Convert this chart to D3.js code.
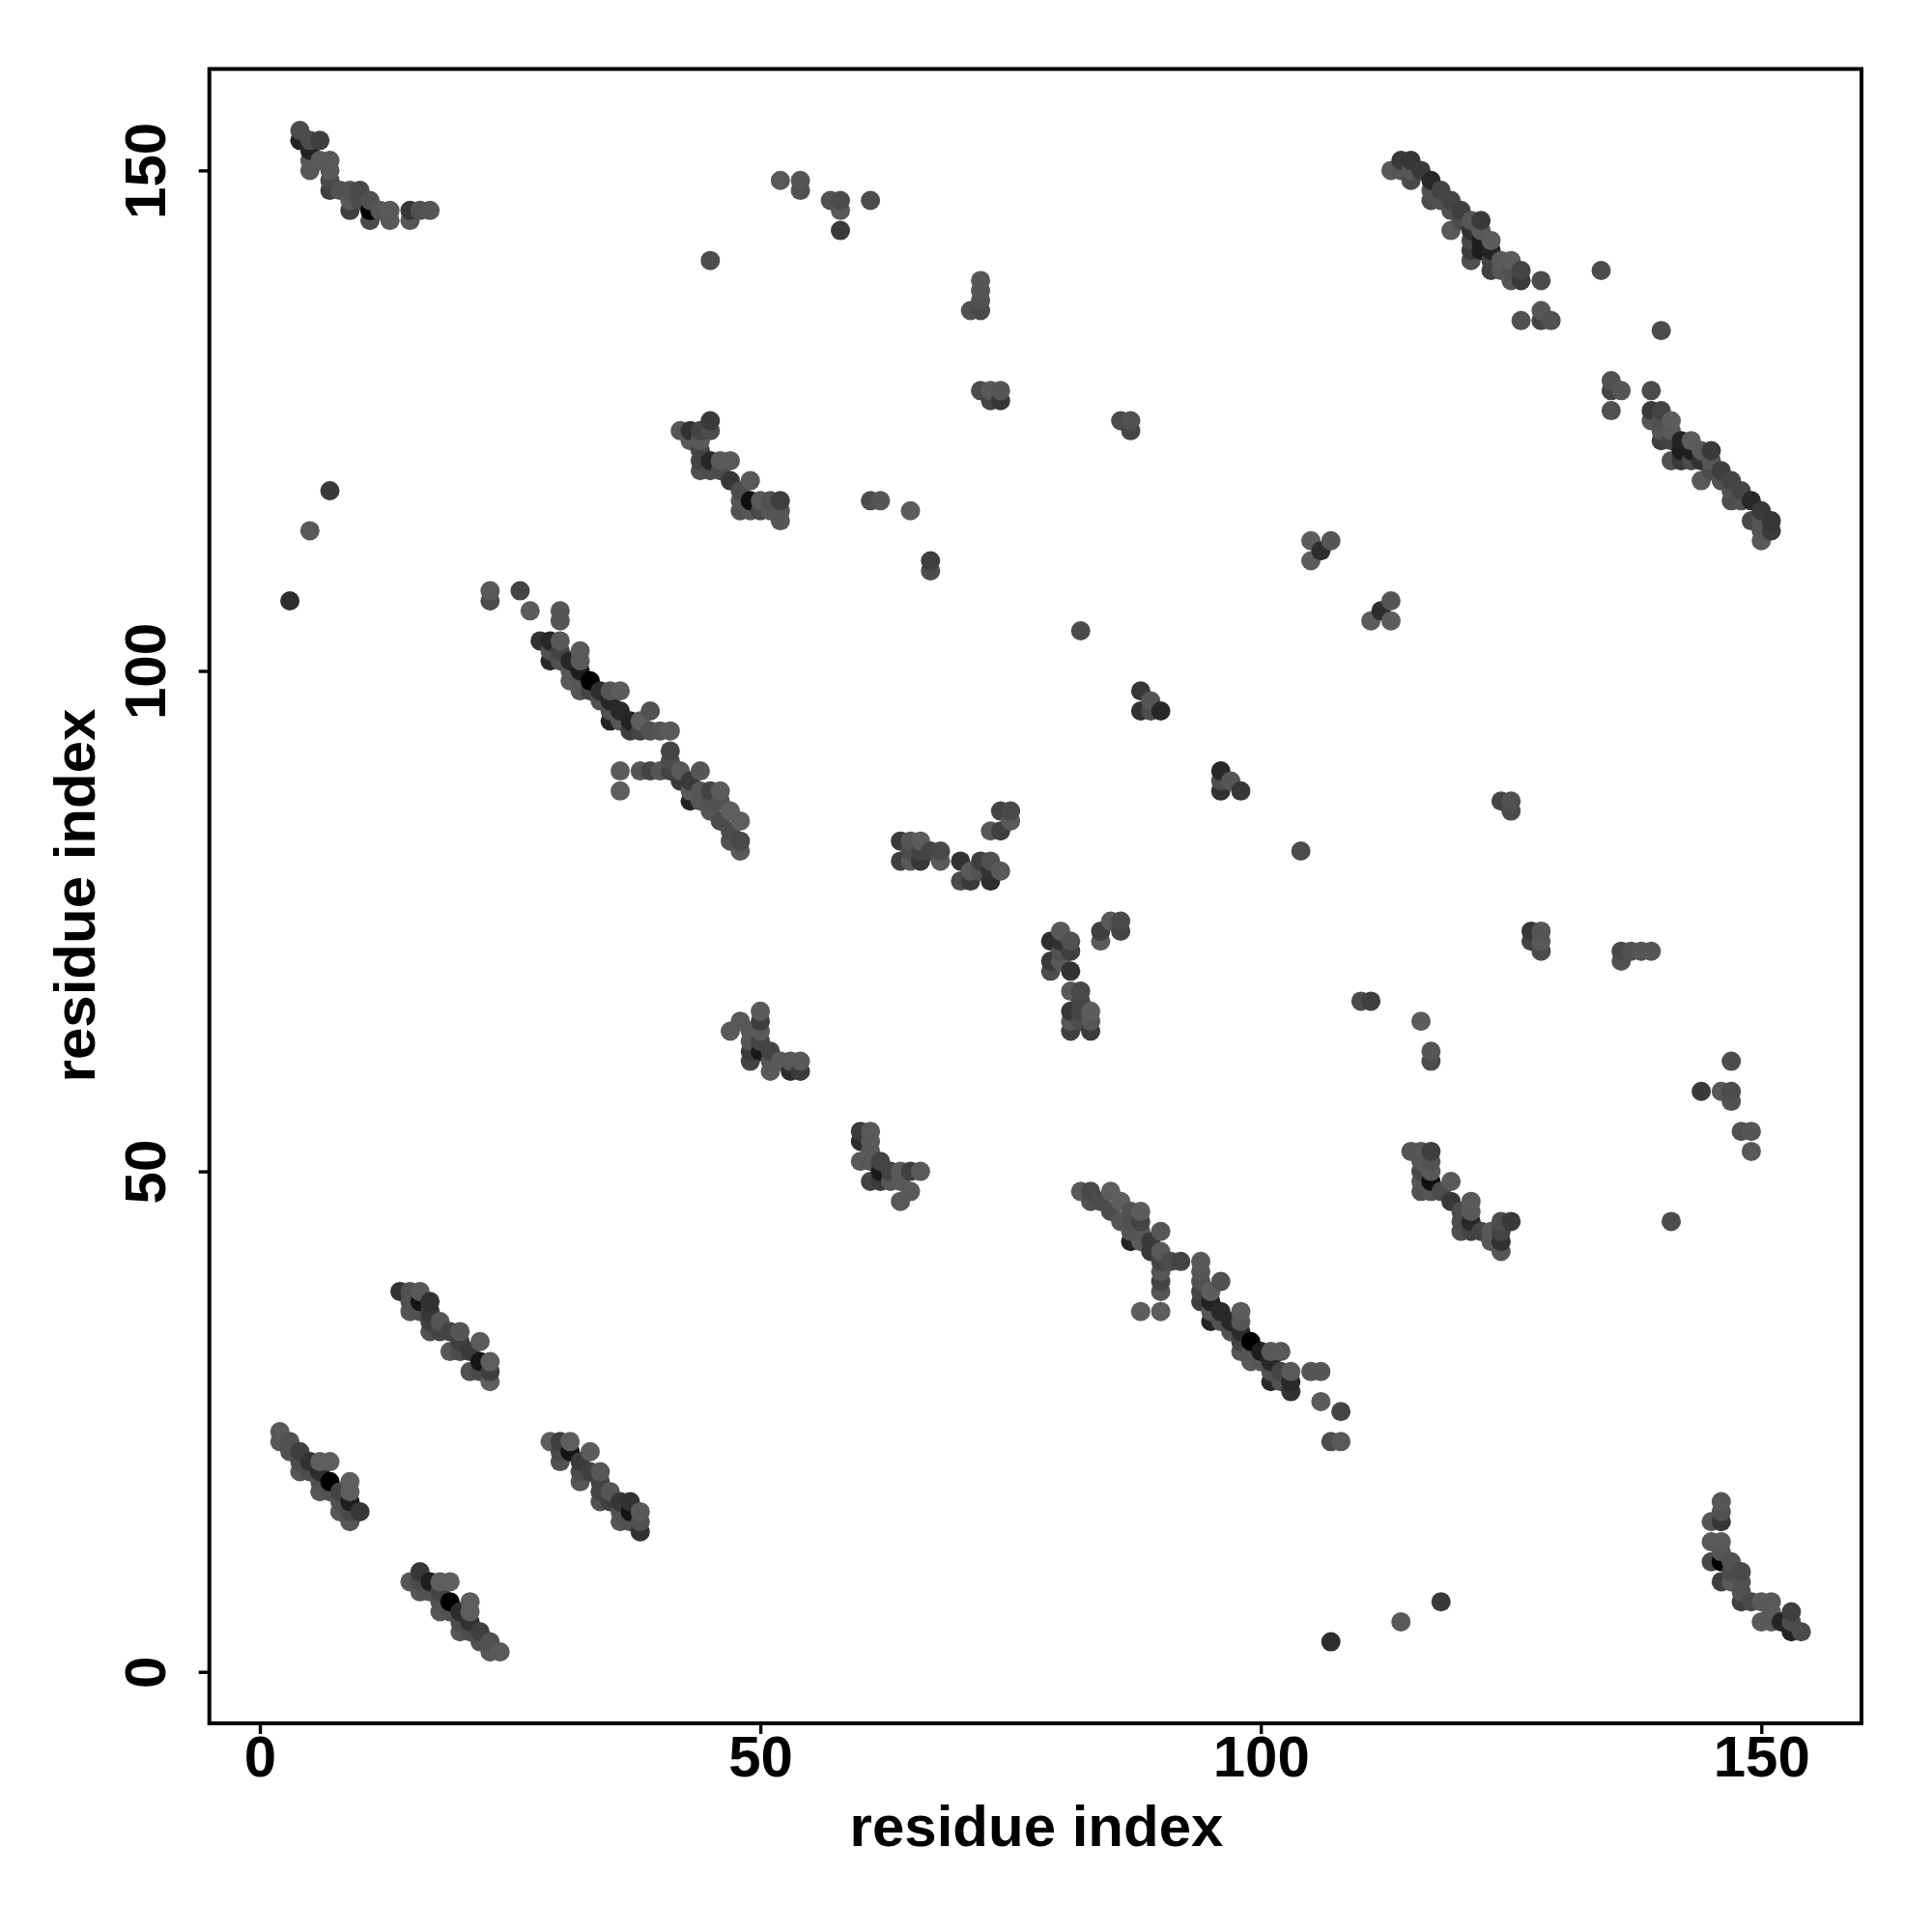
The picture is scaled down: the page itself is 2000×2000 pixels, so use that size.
<!DOCTYPE html>
<html><head><meta charset="utf-8">
<script src="https://cdnjs.cloudflare.com/ajax/libs/d3/7.8.5/d3.min.js"></script>
<style>html,body{margin:0;padding:0;background:#fff}svg{display:block}text{font-family:"Liberation Sans",Arial,sans-serif;font-weight:bold;fill:#000}</style>
</head><body><svg id="c" width="2000" height="2000"></svg>
<script>
const axisTicks = [0, 50, 100, 150];
const axisTitle = "residue index";
// Contacts, one triangle of the symmetric map (i > j)
const contactI = [
15,16,16,16,17,17,18,18,18,18,19,19,19,20,20,20,21,21,21,21,22,22,23,23,24,
29,30,31,30,31,33,30,32,32,32,33,34,34,34,34,35,35,36,37,36,36,37,37,38,38,38,
82,83,83,85,84,85,86,86,87,88,88,87,87,87,88,88,89,90,89,90,91,92,90,90,90,90,90,88,
94,94,94,94,94,96,95,95,96,95,95,96,97,97,98,98,98,99,98,98,99,99,100,101,102,101,100,101,101,102,102,103,103,103,105,106,106,108,107,108,
115,116,117,116,117,116,117,116,117,119,116,117,118,119,121,121,120,120,121,120,121,122,123,123,124,125,124,124,124,
60,61,60,61,60,61,61,62,62,61,62,63,63,64,65,66,64,65,64,
80,79,81,80,81,80,79,80,79,81,85,86,84,86,84,
81,82,82,81,83,82,81,83,82,81,83,
139,139,140,139,140,141,140,141,140,141,142,143,142,141,142,143,143,144,145,144,145,144,145,146,146,147,147,147,148,148,149,150,149,150,151,150,151,150,
146,146,146,145,145,146,146,145,146,146,147,147,147,148,148,148,148,149,150,151,150,151,151,152,153,153,153,154,
107,114,118,141,144,146,147,147,147,148,149,149,117,117,116,110,111,136,136,137,138,139,127,127,128,128,128,125,125,124,104,98,96,97,96,96,113,111,112,113,140,135,136,135,135
];
const contactJ = [
9,10,9,8,9,8,9,8,7,6,9,7,6,6,5,4,7,6,5,4,4,3,3,2,2,
23,23,23,22,22,22,21,21,20,19,20,20,19,18,17,18,17,17,17,16,15,16,15,16,15,14,
48,48,47,48,47,46,47,45,46,46,45,45,44,43,44,43,43,44,42,42,41,41,41,40,39,38,36,36,
41,40,39,38,37,39,38,37,36,35,36,35,34,35,36,35,34,33,32,33,31,32,32,32,32,31,31,29,30,30,29,30,29,28,30,30,27,26,23,23,
52,52,52,51,51,50,50,49,49,49,48,48,48,47,47,46,46,45,45,44,44,44,44,43,45,45,44,43,42,
54,54,53,53,51,52,51,51,50,49,49,50,49,50,50,50,49,48,47,
74,73,73,73,72,72,71,71,70,70,75,75,74,74,73,
68,68,67,66,66,66,65,65,65,64,64,
128,126,126,125,125,125,124,124,123,123,123,123,122,121,121,122,121,121,122,122,121,119,120,120,119,119,118,117,118,117,117,116,115,115,115,114,114,113,
17,16,15,15,13,13,12,11,11,9,11,10,9,10,9,8,7,7,7,7,5,5,6,5,6,5,4,4,
3,5,7,45,58,58,58,57,61,54,54,52,62,61,65,67,67,71,72,72,72,72,73,74,72,73,74,86,87,87,82,88,88,89,89,90,105,105,106,107,134,126,128,128,129
];
const contactGray = [
86,55,73,86,30,81,94,68,81,86,94,0,81,45,76,86,94,94,50,76,63,81,81,86,89,
94,63,94,73,20,92,81,58,76,86,63,86,68,68,81,86,63,55,50,81,86,20,81,89,81,50,
89,73,81,94,76,76,94,86,81,92,68,81,86,35,86,89,58,86,58,89,76,68,68,86,68,86,92,94,
89,86,81,68,63,81,94,35,40,35,86,81,81,40,92,86,45,0,86,68,89,86,30,89,89,40,86,40,81,68,81,89,40,50,86,86,92,68,76,89,
86,86,63,86,81,73,89,86,15,89,81,86,76,55,89,89,76,76,40,81,68,68,89,89,76,58,68,50,86,
58,89,45,89,89,89,86,68,25,68,58,68,86,89,63,89,89,89,89,
89,45,81,50,63,81,58,89,76,50,89,73,63,68,89,
89,73,68,55,92,68,89,86,76,63,58,
76,58,68,86,81,92,86,89,63,68,35,92,30,81,58,30,73,50,58,89,86,89,76,63,81,68,81,76,68,81,40,58,73,86,55,86,58,89,
86,81,55,86,89,89,86,73,0,63,81,76,89,73,81,81,63,73,89,89,89,89,89,35,63,76,35,76,
45,89,58,76,58,89,76,81,76,81,86,89,86,76,92,76,63,81,73,81,86,86,68,55,76,89,86,76,81,68,76,55,50,86,76,40,92,92,45,86,76,81,86,68,81
];

const W = 2000, H = 2000;
const pxPerUnit = 10.362;
const plot = {left: 216.7, right: 1927, top: 71.4, bottom: 1784};
const x0 = 269, y0 = 1730.7;
const x = d3.scaleLinear().domain([(plot.left - x0) / pxPerUnit, (plot.right - x0) / pxPerUnit]).range([plot.left, plot.right]);
const y = d3.scaleLinear().domain([(y0 - plot.bottom) / pxPerUnit, (y0 - plot.top) / pxPerUnit]).range([plot.bottom, plot.top]);

const half = contactI.map((v, k) => ({i: v, j: contactJ[k], g: contactGray[k]}));
const pts = half.concat(half.map(d => ({i: d.j, j: d.i, g: d.g})))
  .sort((a, b) => d3.ascending(a.i, b.i) || d3.ascending(a.j, b.j));

const svg = d3.select("#c");
svg.append("rect").attr("width", W).attr("height", H).attr("fill", "#fff");

svg.append("g").selectAll("circle").data(pts).join("circle")
  .attr("cx", d => x(d.i)).attr("cy", d => y(d.j)).attr("r", 10)
  .attr("fill", d => d3.rgb(d.g, d.g, d.g).formatHex());

const ax = svg.append("g").attr("transform", `translate(0,${plot.bottom})`)
  .call(d3.axisBottom(x).tickValues(axisTicks).tickFormat(d3.format("d")).tickSize(11));
ax.select(".domain").remove();
ax.selectAll("line").attr("stroke", "#000").attr("stroke-width", 3.4);
ax.selectAll("text").attr("y", 0).attr("dy", 55).attr("font-size", 60).attr("text-anchor", "middle").style("font-family", '"Liberation Sans"').style("font-weight", "bold");

const ay = svg.append("g").attr("transform", `translate(${plot.left},0)`)
  .call(d3.axisLeft(y).tickValues(axisTicks).tickFormat(d3.format("d")).tickSize(11));
ay.select(".domain").remove();
ay.selectAll("line").attr("stroke", "#000").attr("stroke-width", 3.4);
ay.selectAll("text").attr("x", 0).attr("dy", 0).attr("font-size", 60)
  .attr("text-anchor", "middle").attr("transform", "translate(-45.5,0) rotate(-90)")
  .style("font-family", '"Liberation Sans"').style("font-weight", "bold");

svg.append("rect").attr("x", plot.left).attr("y", plot.top)
  .attr("width", plot.right - plot.left).attr("height", plot.bottom - plot.top)
  .attr("fill", "none").attr("stroke", "#000").attr("stroke-width", 4);

svg.append("text").attr("x", 1073).attr("y", 1911).attr("text-anchor", "middle").attr("font-size", 60).text(axisTitle);
svg.append("text").attr("transform", "translate(98,927) rotate(-90)").attr("text-anchor", "middle").attr("font-size", 60).text(axisTitle);
</script></body></html>
